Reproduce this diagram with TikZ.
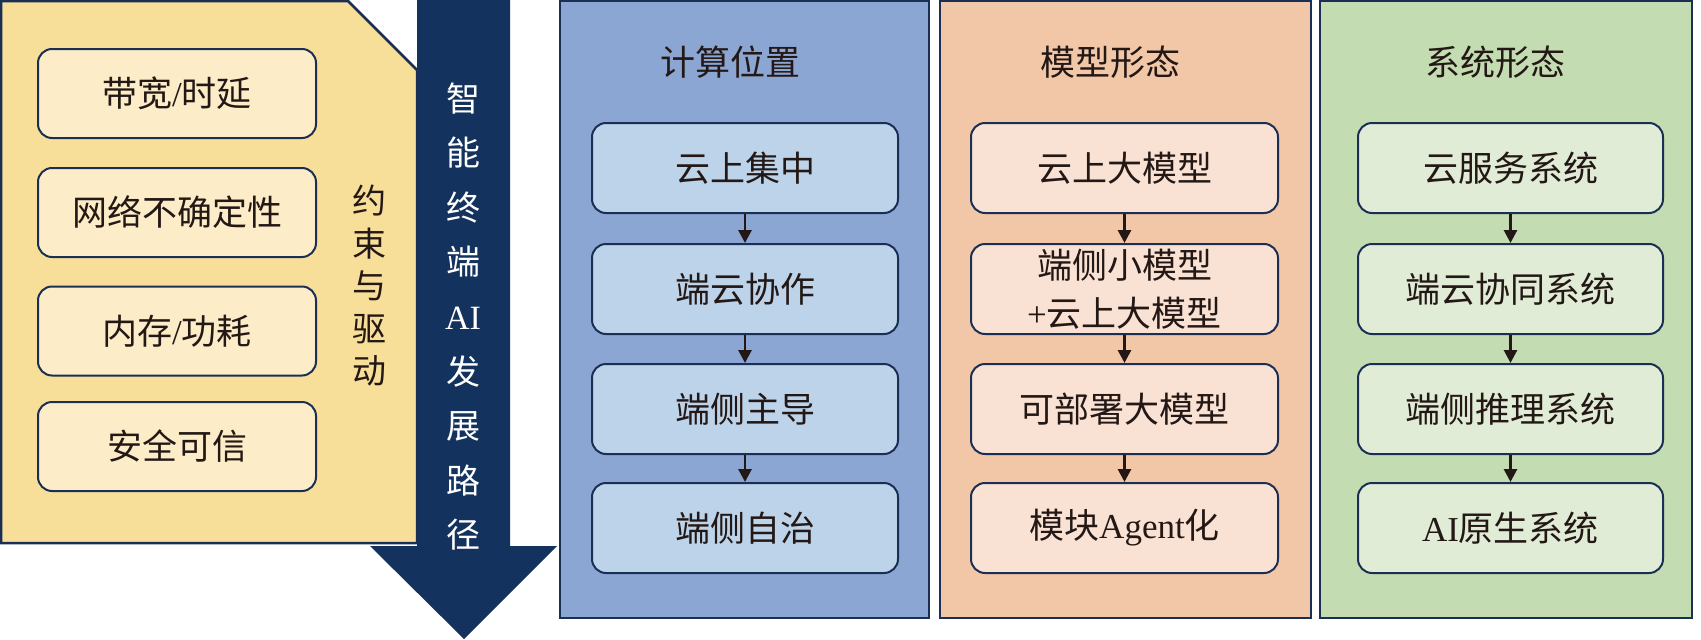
\documentclass[tikz,border=0pt]{standalone}
\usepackage{fontspec}
\setmainfont{Noto Sans CJK SC}
\newfontfamily\lat{Liberation Serif}
\usetikzlibrary{arrows.meta}
\definecolor{navy}{HTML}{14325E}
\definecolor{edge}{HTML}{1B2F55}
\definecolor{ink}{HTML}{231815}
\definecolor{ypanel}{HTML}{F7DF99}
\definecolor{ybox}{HTML}{FCEDC8}
\definecolor{bpanel}{HTML}{8BA6D3}
\definecolor{bbox}{HTML}{BCD3EA}
\definecolor{opanel}{HTML}{F2C7A8}
\definecolor{obox}{HTML}{F9E2D4}
\definecolor{gpanel}{HTML}{C4DCB2}
\definecolor{gbox}{HTML}{E1ECD6}
\tikzset{
  txt/.style={font=\fontsize{35}{42}\selectfont, text=ink},
  panel/.style={draw=edge, line width=2.5pt},
  card/.style={draw=edge, line width=2pt, rounded corners=14pt, txt, align=center, inner sep=0pt},
  ycard/.style={card, fill=ybox, minimum width=278pt, minimum height=89pt},
  bcard/.style={card, fill=bbox, minimum width=306pt, minimum height=90pt},
  ocard/.style={card, fill=obox, minimum width=307pt, minimum height=90pt},
  gcard/.style={card, fill=gbox, minimum width=305pt, minimum height=90pt},
  conn/.style={draw=ink, line width=2.8pt, -{Triangle[width=13pt,length=13pt]}},
}
\begin{document}
\begin{tikzpicture}[x=1pt,y=-1pt]
\useasboundingbox (0,0) rectangle (1701,640);
% big arrow
\fill[navy] (417,0) -- (510,0) -- (510,546) -- (557,546) -- (464,639) -- (370,546) -- (417,546) -- cycle;
% yellow panel
\draw[panel, fill=ypanel] (1,1) -- (348,1) -- (417,70) -- (417,543) -- (1,543) -- cycle;
\node[ycard] (y1) at (177,93.5) {带宽{\lat /}时延};
\node[ycard] (y2) at (177,212.5) {网络不确定性};
\node[ycard] (y3) at (177,331) {内存{\lat /}功耗};
\node[ycard] (y4) at (177,446.5) {安全可信};
\node[txt, align=center, font=\fontsize{34}{42.5}\selectfont, inner sep=0pt] (ylab) at (369,286) {约\\束\\与\\驱\\动};
\node[txt, text=white, align=center, font=\fontsize{34}{54.6}\selectfont, inner sep=0pt] (alab) at (463,316.5) {智\\能\\终\\端\\{\lat AI}\\发\\展\\路\\径};
% blue column
\draw[panel, fill=bpanel] (560,1) rectangle (929,618);
\node[txt] (bt) at (730,62) {计算位置};
\node[bcard] (b1) at (745,168) {云上集中};
\node[bcard] (b2) at (745,289) {端云协作};
\node[bcard] (b3) at (745,409) {端侧主导};
\node[bcard] (b4) at (745,528) {端侧自治};
\draw[conn] (b1.south) -- (b2.north);
\draw[conn] (b2.south) -- (b3.north);
\draw[conn] (b3.south) -- (b4.north);
% orange column
\draw[panel, fill=opanel] (940,1) rectangle (1311,618);
\node[txt] (ot) at (1110,62) {模型形态};
\node[ocard] (o1) at (1124.5,168) {云上大模型};
\node[ocard, font=\fontsize{35}{48}\selectfont] (o2) at (1124.5,289) {端侧小模型\\{\lat +}云上大模型};
\node[ocard] (o3) at (1124.5,409) {可部署大模型};
\node[ocard] (o4) at (1124.5,528) {模块{\lat Agent}化};
\draw[conn] (o1.south) -- (o2.north);
\draw[conn] (o2.south) -- (o3.north);
\draw[conn] (o3.south) -- (o4.north);
% green column
\draw[panel, fill=gpanel] (1320,1) rectangle (1692,618);
\node[txt] (gt) at (1495,62) {系统形态};
\node[gcard] (g1) at (1510.5,168) {云服务系统};
\node[gcard] (g2) at (1510.5,289) {端云协同系统};
\node[gcard] (g3) at (1510.5,409) {端侧推理系统};
\node[gcard] (g4) at (1510.5,528) {{\lat AI}原生系统};
\draw[conn] (g1.south) -- (g2.north);
\draw[conn] (g2.south) -- (g3.north);
\draw[conn] (g3.south) -- (g4.north);
\end{tikzpicture}
\end{document}
